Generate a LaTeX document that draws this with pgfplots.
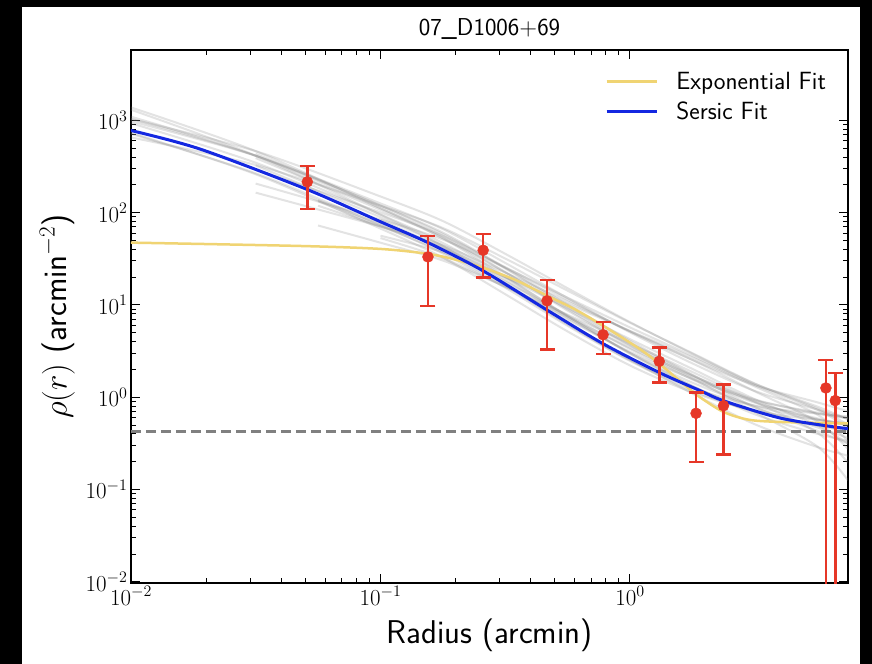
\RequirePackage{fix-cm}
\documentclass[border=0pt]{standalone}
\usepackage{pgfplots}
\pgfplotsset{compat=1.18}
\definecolor{ptred}{RGB}{230,55,40}
\definecolor{ptblue}{RGB}{20,40,225}
\definecolor{ptyellow}{RGB}{240,212,115}
\definecolor{ptgray}{RGB}{128,128,128}
\begin{document}
\begin{tikzpicture}
\fill[black] (-131bp,-81bp) rectangle (741bp,583bp);
\fill[white] (-109bp,-81bp) rectangle (729bp,576bp);
\begin{axis}[
  at={(0,0)}, anchor=south west,
  scale only axis, width=717bp, height=533bp,
  xmode=log, ymode=log,
  xmin=0.01, xmax=7.48, ymin=0.0097, ymax=5800,
  xtick={0.01,0.1,1}, ytick={0.01,0.1,1,10,100,1000},
  tick align=inside, major tick length=9bp, minor tick length=5bp,
  every tick/.style={black, line width=1bp},
  axis line style={line width=1.2bp},
  ticklabel style={font=\fontsize{23}{27}\selectfont},
  label style={font=\sffamily\fontsize{33}{38}\selectfont, inner sep=0pt},
  xlabel={Radius (arcmin)},
  ylabel={$\rho(r)$ (arcmin$^{-2}$)},
  xlabel style={at={(axis description cs:0.5,-0.0675)}, anchor=north},
  ylabel style={at={(axis description cs:-0.0781,0.5)}, anchor=south},
  title={07\_D1006+69},
  title style={font=\sffamily\fontsize{24.5}{29}\selectfont, at={(axis description cs:0.5,1.016)}, anchor=base, inner sep=0pt},
  legend style={at={(axis description cs:0.977,0.968)}, anchor=north east, draw=none, fill=none,
    font=\sffamily\fontsize{25}{30}\selectfont, row sep=0pt, inner sep=0pt,
    nodes={inner sep=5.3bp},
    /tikz/every odd column/.append style={column sep=13bp}},
  legend cell align=left,
  legend image code/.code={\draw[#1, line width=3bp] (0bp,0bp) -- (50bp,0bp);},
]
% bootstrap realisations (faint grey)
\pgfplotsset{boot/.style={black!50, opacity=0.22, line width=2bp, smooth, forget plot}}
\addplot[boot] coordinates {(0.01,1099) (0.0316,414) (0.1,112) (0.178,55.5) (0.316,22.8) (0.562,9.0) (1,3.67) (1.778,1.67) (3.162,0.874) (5.623,0.591) (7.48,0.499)};
\addplot[boot] coordinates {(0.01,980) (0.0316,414) (0.1,126) (0.178,66.4) (0.316,28.6) (0.562,11.9) (1,5.05) (1.778,2.33) (3.162,1.17) (5.623,0.737) (7.48,0.585)};
\addplot[boot] coordinates {(0.01,1384) (0.0316,465) (0.1,112) (0.178,52.8) (0.316,20.3) (0.562,7.59) (1,2.96) (1.778,1.32) (3.162,0.70) (5.623,0.494) (7.48,0.432)};
\addplot[boot] coordinates {(0.0316,294) (0.1,101) (0.178,56.1) (0.316,25.7) (0.562,11.4) (1,5.15) (1.778,2.54) (3.162,1.35) (5.623,0.882) (7.48,0.704)};
\addplot[boot] coordinates {(0.0562,137) (0.1,75.3) (0.178,40.8) (0.316,18.0) (0.562,7.71) (1,3.34) (1.778,1.56) (3.162,0.775) (5.623,0.473) (7.48,0.363)};
\addplot[boot] coordinates {(0.01,655) (0.0316,329) (0.1,119) (0.178,68.2) (0.316,31.9) (0.562,14.3) (1,6.42) (1.778,3.01) (3.162,1.41) (5.623,0.759) (7.48,0.504)};
\addplot[boot] coordinates {(0.0562,133) (0.1,71.4) (0.178,37.6) (0.316,16.4) (0.562,6.96) (1,3.11) (1.778,1.58) (3.162,0.928) (5.623,0.683) (7.48,0.598)};
\addplot[boot] coordinates {(0.0562,119) (0.1,71.0) (0.178,41.8) (0.316,20.1) (0.562,9.26) (1,4.26) (1.778,2.03) (3.162,0.953) (5.623,0.499) (7.48,0.314)};
\addplot[boot] coordinates {(0.0562,72.7) (0.1,47.3) (0.178,30.3) (0.316,15.8) (0.562,7.85) (1,3.83) (1.778,1.88) (3.162,0.895) (5.623,0.415) (7.48,0.195)};
\addplot[boot] coordinates {(0.0316,165) (0.1,70.9) (0.178,44.2) (0.316,22.4) (0.562,10.9) (1,5.21) (1.778,2.54) (3.162,1.16) (5.623,0.547) (7.48,0.275)};
\addplot[boot] coordinates {(0.01,1038) (0.0316,414) (0.1,119) (0.178,60.8) (0.316,25.3) (0.562,10.1) (1,4.08) (1.778,1.75) (3.162,0.783) (5.623,0.433) (7.48,0.315)};
\addplot[boot] coordinates {(0.01,1038) (0.0316,465) (0.1,150) (0.178,81.1) (0.316,35.9) (0.562,15.2) (1,6.52) (1.778,2.96) (3.162,1.40) (5.623,0.794) (7.48,0.576)};
\addplot[boot] coordinates {(0.01,735) (0.0316,261) (0.1,67.3) (0.178,32.6) (0.316,13.1) (0.562,5.17) (1,2.21) (1.778,1.13) (3.162,0.712) (5.623,0.569) (7.48,0.524)};
\addplot[boot] coordinates {(0.0316,207) (0.1,84.4) (0.178,51.2) (0.316,25.4) (0.562,12.0) (1,5.71) (1.778,2.81) (3.162,1.36) (5.623,0.734) (7.48,0.468)};
\addplot[boot] coordinates {(0.01,1306) (0.0316,415) (0.1,95.0) (0.178,43.4) (0.316,16.4) (0.562,6.15) (1,2.52) (1.778,1.27) (3.162,0.812) (5.623,0.665) (7.48,0.621)};
\addplot[boot] coordinates {(0.1,56.3) (0.178,37.2) (0.316,20.0) (0.562,10.3) (1,5.23) (1.778,2.70) (3.162,1.31) (5.623,0.651) (7.48,0.334)};
\addplot[boot] coordinates {(0.1,53.1) (0.178,32.1) (0.316,15.8) (0.562,7.43) (1,3.43) (1.778,1.60) (3.162,0.691) (5.623,0.294) (7.48,0.126)};
\addplot[boot] coordinates {(0.0316,325) (0.1,89.4) (0.178,43.9) (0.316,18.7) (0.562,7.25) (1,3.02) (1.778,1.44) (3.162,0.808) (5.623,0.572) (7.48,0.512)};
\addplot[boot] coordinates {(0.01,716) (0.0316,267) (0.1,73.4) (0.178,36.1) (0.316,15.4) (0.562,5.95) (1,2.48) (1.778,1.18) (3.162,0.70) (5.623,0.50) (7.48,0.45)};
\addplot[boot] coordinates {(0.01,933) (0.0316,348) (0.1,95.6) (0.178,46.9) (0.316,19.9) (0.562,7.55) (1,3.02) (1.778,1.33) (3.162,0.654) (5.623,0.402) (7.48,0.337)};
\addplot[boot] coordinates {(0.0316,391) (0.1,107.7) (0.178,52.9) (0.316,22.6) (0.562,8.70) (1,3.61) (1.778,1.71) (3.162,0.948) (5.623,0.665) (7.48,0.592)};
\addplot[boot] coordinates {(0.1,83.6) (0.178,40.9) (0.316,17.3) (0.562,6.54) (1,2.58) (1.778,1.10) (3.162,0.51) (5.623,0.289) (7.48,0.233)};
\addplot[boot] coordinates {(0.0316,435) (0.1,119.6) (0.178,58.7) (0.316,24.9) (0.562,9.51) (1,3.86) (1.778,1.74) (3.162,0.893) (5.623,0.578) (7.48,0.497)};
% exponential fit
\addplot[ptyellow, line width=2.5bp, smooth] coordinates {(0.01,47.4) (0.0476,43.6) (0.1,40.5) (0.155,35.8) (0.2,31) (0.2575,25.4) (0.35,18.5) (0.465,12.6) (0.6,9.0) (0.78,5.96) (1.1,3.3) (1.31,2.31) (1.6,1.47) (1.91,1.0) (2.38,0.69) (3.0,0.57) (4.0,0.54) (7.48,0.52)};
\addlegendentry{Exponential Fit}
% sersic fit
\addplot[ptblue, line width=3bp, smooth] coordinates {(0.01,778) (0.0189,490) (0.0507,179) (0.1,79.8) (0.155,47.4) (0.258,23.4) (0.465,8.81) (0.779,3.81) (1.307,1.86) (1.909,1.18) (2.38,0.912) (3.99,0.596) (6.33,0.484) (7.48,0.457)};
\addlegendentry{Sersic Fit}
% background level
\addplot[ptgray, line width=2.2bp, dash pattern=on 10bp off 5bp, forget plot] coordinates {(0.01,0.426) (7.48,0.426)};
% data
\addplot[ptred, only marks, mark=*, mark size=5.5bp, mark options={fill=ptred, draw=ptred}, forget plot,
  error bars/.cd, y dir=both, y explicit,
  error bar style={line width=2.6bp, ptred},
  error mark options={rotate=90, mark size=7.5bp, line width=2.4bp, ptred}]
  table[x=x, y=y, y error plus=ep, y error minus=em] {
x y ep em
0.0509 216 104 107
0.155 33.2 22.8 23.4
0.258 39.2 19.2 19.4
0.465 11.1 7.5 7.8
0.78 4.76 1.82 1.82
1.31 2.45 1.02 1.0
1.84 0.67 0.46 0.47
2.37 0.81 0.56 0.57
6.1 1.26 1.28 1.259
6.65 0.92 0.90 0.919
};
\end{axis}
\pgfresetboundingbox
\useasboundingbox (-131bp,-81bp) rectangle (741bp,583bp);
\end{tikzpicture}
\end{document}
